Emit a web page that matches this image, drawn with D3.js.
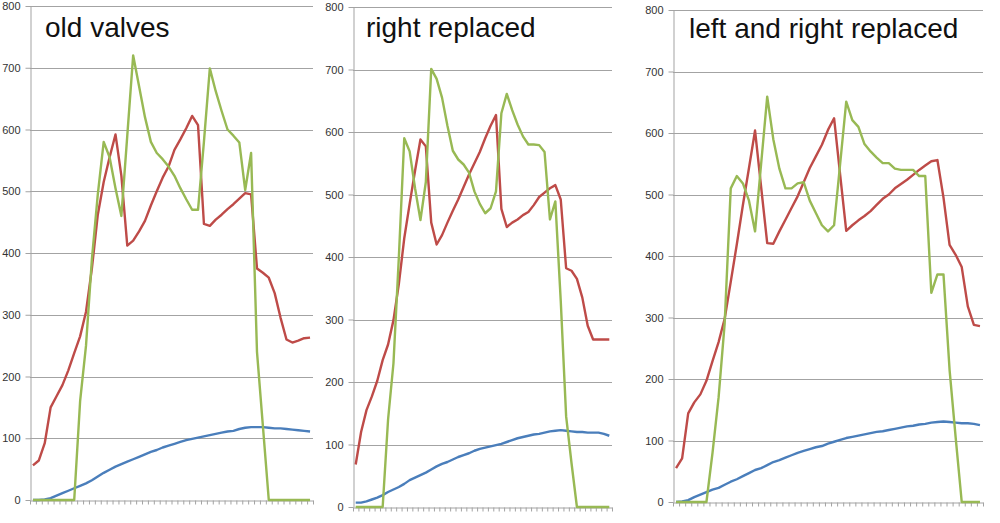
<!DOCTYPE html>
<html>
<head>
<meta charset="utf-8">
<script src="https://cdn.jsdelivr.net/npm/d3@7"></script>
<style>
  body { margin: 0; background: #fff; }
  svg { display: block; }
</style>
</head>
<body>
<svg id="chart" width="1000" height="523"></svg>
<script>
// y tick labels shared by all three panels
const yTicks = [0, 100, 200, 300, 400, 500, 600, 700, 800];
const titles = ["old valves", "right replaced", "left and right replaced"];

// old valves (48 points)
const oldRed = [56,64,92,150,168,186,210,238,265,305, 375,462,515,555,592,525,412,420,435,452,
  477,500,522,540,567,584,602,622,607,447, 444,454,462,471,479,488,497,495,375,368,
  360,335,295,260,255,258,262,263];
const oldGreen = [0,0,0,0,0,0,0,0,160,250, 390,495,580,555,505,460,590,720,670,620,
  580,562,552,540,525,505,487,470,470,580, 699,662,630,600,590,579,502,562,240,120,
  0,0,0,0,0,0,0,0];
const oldBlue = [0,0,1,3,7,11,15,19,23,27, 32,38,44,49,54,58,62,66,70,74,
  78,81,85,88,91,94,97,99,101,103, 105,107,109,111,112,115,117,118,118,118,
  117,116,116,115,114,113,112,111];

// right replaced (48 points)
const rightRed = [68,120,155,177,202,235,260,299,357,430, 485,538,588,577,455,420,435,455,474,492,
  512,532,550,568,590,610,627,477,448,455, 460,467,472,483,496,503,510,515,492,382,
  378,365,335,290,268,268,268,268];
const rightGreen = [0,0,0,0,0,0,140,230,400,590, 569,510,459,520,701,685,655,610,570,556,
  548,535,505,485,470,478,505,630,661,635, 612,593,580,580,579,568,460,489,330,145,
  70,0,0,0,0,0,0,0];
const rightBlue = [7,7,9,12,15,19,24,28,32,37, 43,47,51,55,60,65,69,72,76,80,
  83,86,90,93,95,97,99,101,104,107, 110,112,114,116,117,119,121,122,123,122,
  121,120,120,119,119,119,117,114];

// left and right replaced (51 points)
const bothRed = [55,71,144,162,175,197,229,260,298,358, 419,483,543,604,512,421,420,440,459,478,
  497,520,543,562,581,605,624,532,441,450, 458,465,473,483,493,500,510,517,524,532,
  540,547,554,556,495,418,402,382,318,288, 286];
const bothGreen = [0,0,0,0,0,0,80,170,290,510, 530,518,490,440,550,659,590,542,510,510,
  518,520,490,470,450,440,450,550,651,621, 610,582,570,560,551,551,542,540,540,540,
  530,530,340,370,370,215,105,0,0,0, 0];
const bothBlue = [0,1,3,8,12,16,20,23,28,33, 37,42,47,52,55,60,65,68,72,76,
  80,83,86,89,91,95,98,101,104,106, 108,110,112,114,115,117,119,121,123,124,
  126,127,129,130,131,130,129,128,128,127, 125];

const colors = { red: "#be4b48", green: "#98b954", blue: "#4a7ebb" };

const panels = [
  { left: 30, right: 313, top: 6, bottom: 500, title: titles[0], tx: 45, ty: 37,
    red: oldRed, green: oldGreen, blue: oldBlue },
  { left: 353, right: 612, top: 7, bottom: 507, title: titles[1], tx: 366, ty: 37,
    red: rightRed, green: rightGreen, blue: rightBlue },
  { left: 673, right: 983, top: 10, bottom: 502, title: titles[2], tx: 689, ty: 38,
    red: bothRed, green: bothGreen, blue: bothBlue }
];

const svg = d3.select("#chart");

function drawPanel(p) {
  const n = p.red.length;
  const x = d3.scaleBand().domain(d3.range(n)).range([p.left, p.right]);
  const xTicks = d3.scaleLinear().domain([0, n]).range([p.left, p.right]);
  const y = d3.scaleLinear().domain([0, 800]).range([p.bottom, p.top]);

  const g = svg.append("g");

  // horizontal gridlines
  g.selectAll("line.grid")
    .data(yTicks.filter(d => d > 0))
    .enter()
    .append("line")
    .attr("class", "grid")
    .attr("x1", p.left)
    .attr("x2", p.right)
    .attr("y1", d => Math.round(y(d)) + 0.5)
    .attr("y2", d => Math.round(y(d)) + 0.5)
    .attr("stroke", "#a3a3a3")
    .attr("stroke-width", 1);

  // y axis
  const yAxis = g.append("g")
    .attr("transform", `translate(${p.left + 0.5},0)`)
    .call(d3.axisLeft(y).tickValues(yTicks).tickSize(5).tickSizeOuter(0).tickPadding(5));
  yAxis.select(".domain").attr("stroke", "#a3a3a3");
  yAxis.selectAll(".tick line").attr("stroke", "#a3a3a3");
  yAxis.selectAll(".tick text")
    .attr("fill", "#333")
    .style("font-family", "'Liberation Sans', Arial, sans-serif")
    .style("font-size", "11px");

  // x axis: ticks between categories, no labels
  const xAxis = g.append("g")
    .attr("transform", `translate(0,${Math.round(p.bottom) + 0.5})`)
    .call(d3.axisBottom(xTicks).tickValues(d3.range(n + 1)).tickSize(4).tickSizeOuter(0).tickFormat(""));
  xAxis.select(".domain").attr("stroke", "#a3a3a3");
  xAxis.selectAll(".tick line").attr("stroke", "#a3a3a3");

  const line = d3.line()
    .x((d, i) => x(i) + x.bandwidth() / 2)
    .y(d => y(d));

  for (const key of ["blue", "red", "green"]) {
    g.append("path")
      .datum(p[key])
      .attr("d", line)
      .attr("fill", "none")
      .attr("stroke", colors[key])
      .attr("stroke-width", 2.4)
      .attr("stroke-linejoin", "round");
  }

  g.append("text")
    .attr("x", p.tx)
    .attr("y", p.ty)
    .attr("fill", "#111")
    .style("font-family", "'Liberation Sans', Arial, sans-serif")
    .style("font-size", "28px")
    .text(p.title);
}

panels.forEach(drawPanel);
</script>
</body>
</html>
